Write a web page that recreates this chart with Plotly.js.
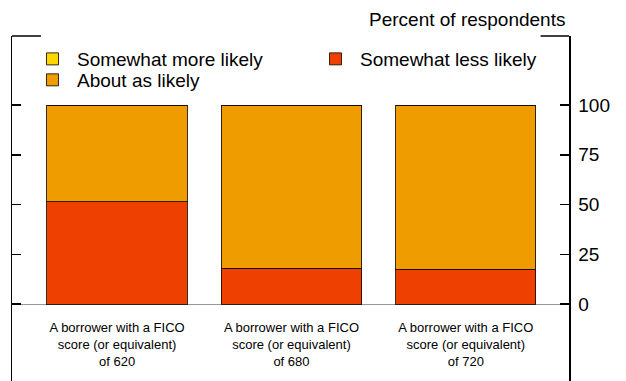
<!DOCTYPE html>
<html>
<head>
<meta charset="utf-8">
<script src="https://cdn.plot.ly/plotly-3.0.1.min.js"></script>
<style>html,body{margin:0;padding:0;background:#fff;}#chart{width:626px;height:381px;}</style>
</head>
<body>
<div id="chart"></div>
<script>
var categories = [
  "A borrower with a FICO<br>score (or equivalent)<br>of 620",
  "A borrower with a FICO<br>score (or equivalent)<br>of 680",
  "A borrower with a FICO<br>score (or equivalent)<br>of 720"
];
var somewhatLessLikely = [51.5, 18, 17.5];
var aboutAsLikely = [48.5, 82, 82.5];
var somewhatMoreLikely = [0, 0, 0];
var yTickVals = [0, 25, 50, 75, 100];
var yTickText = ["0", "25", "50", "75", "100"];

var outline = {color: "rgba(20,10,0,0.85)", width: 1};
var traces = [
  {type: "bar", name: "Somewhat less likely", x: categories, y: somewhatLessLikely,
   marker: {color: "#EE4000", line: outline}, legend: "legend2", hoverinfo: "y+name"},
  {type: "bar", name: "About as likely", x: categories, y: aboutAsLikely,
   marker: {color: "#EE9C00", line: outline}, legend: "legend3", hoverinfo: "y+name"},
  {type: "bar", name: "Somewhat more likely", x: categories, y: somewhatMoreLikely,
   marker: {color: "#FFD700", line: outline}, legend: "legend", hoverinfo: "y+name"}
];

function legendAt(x, y) {
  return {
    orientation: "v", x: x, xanchor: "left", y: y, yanchor: "middle",
    itemwidth: 39, bgcolor: "rgba(0,0,0,0)", borderwidth: 0,
    font: {size: 19}, itemclick: false, itemdoubleclick: false
  };
}

var layout = {
  width: 626, height: 381,
  margin: {l: 12, r: 57, t: 36, b: 0, pad: 0},
  paper_bgcolor: "#fff", plot_bgcolor: "rgba(0,0,0,0)",
  font: {family: "'Liberation Sans', Arial, Helvetica, sans-serif", color: "#000", size: 18},
  barmode: "stack",
  bargap: 0.195,
  showlegend: true,
  legend: legendAt(0.0287, 0.9333),
  legend2: legendAt(0.5368, 0.9333),
  legend3: legendAt(0.0287, 0.8725),
  xaxis: {
    type: "category", range: [-0.603, 2.592],
    anchor: "free", position: 0.1826,
    showline: false, showgrid: false, zeroline: false, ticks: "",
    tickfont: {size: 13}, fixedrange: true
  },
  yaxis: {
    side: "right", range: [-38.69, 134.67],
    tickvals: yTickVals, ticktext: yTickText,
    ticks: "inside", ticklen: 9, tickwidth: 1.5, tickcolor: "#000",
    ticklabelstandoff: 4,
    showline: true, linecolor: "#000", linewidth: 1.5, mirror: "ticks",
    showgrid: false, zeroline: true, zerolinecolor: "#999", zerolinewidth: 1,
    tickfont: {size: 19}, fixedrange: true
  },
  shapes: [
    {type: "line", xref: "paper", yref: "paper", x0: 0, x1: 0.052, y0: 1, y1: 1,
     line: {color: "#000", width: 1.5}},
    {type: "line", xref: "paper", yref: "paper", x0: 0.949, x1: 1, y0: 1, y1: 1,
     line: {color: "#000", width: 1.5}}
  ],
  annotations: [
    {text: "Percent of respondents", xref: "paper", yref: "paper", x: 1, y: 1,
     xanchor: "right", yanchor: "bottom", yshift: 4, xshift: -2, showarrow: false,
     font: {size: 19}}
  ]
};

Plotly.newPlot("chart", traces, layout, {displayModeBar: false, staticPlot: true});
</script>
</body>
</html>
